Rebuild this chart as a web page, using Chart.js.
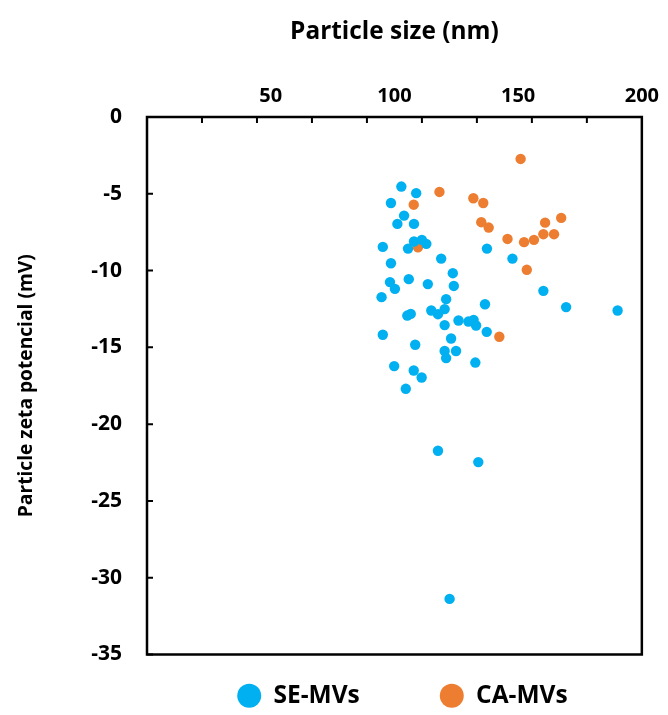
<!DOCTYPE html>
<html>
<head>
<meta charset="utf-8">
<script src="https://cdn.jsdelivr.net/npm/chart.js@4/dist/chart.umd.min.js"></script>
<style>
  html, body { margin: 0; padding: 0; background: #fff; }
  #wrap { width: 668px; height: 715px; }
</style>
</head>
<body>
<div id="wrap"><canvas id="chart"></canvas></div>
<script>
// Values (size in nm, zeta potential in mV)
const seSize = [102.8, 108.8, 98.6, 103.9, 101.2, 107.9, 95.3, 105.5, 107.9, 111.1,
    112.9, 98.6, 118.9, 123.6, 105.8, 98.2, 100.2, 113.5, 124.0, 94.8,
    120.9, 114.9, 117.6, 120.3, 105.2, 106.6, 125.9, 129.9, 132.0, 133.0,
    120.3, 95.3, 108.4, 122.9, 120.3, 124.9, 120.9, 99.9, 107.8, 111.0,
    104.6, 136.6, 137.3, 132.7, 137.4, 147.7, 160.2, 169.4, 190.2, 117.6,
    133.9, 122.3];
const seZeta = [-4.53, -4.96, -5.60, -6.42, -6.96, -6.96, -8.46, -8.57, -8.11, -8.00,
    -8.26, -9.52, -9.22, -10.17, -10.56, -10.75, -11.19, -10.88, -11.00, -11.73,
    -11.86, -12.60, -12.84, -12.51, -12.93, -12.82, -13.25, -13.32, -13.21, -13.58,
    -13.55, -14.18, -14.83, -14.42, -15.24, -15.24, -15.70, -16.22, -16.51, -16.96,
    -17.70, -12.19, -13.99, -15.99, -8.57, -9.22, -11.32, -12.38, -12.60, -21.73,
    -22.47, -31.38];

const caSize = [118.2, 107.8, 109.5, 131.9, 135.9, 135.1, 138.1, 151.0, 145.7, 152.4,
    156.4, 160.2, 160.9, 164.5, 167.4, 153.5, 142.4];
const caZeta = [-4.88, -5.71, -8.48, -5.29, -5.60, -6.85, -7.20, -2.73, -7.94, -8.15,
    -8.00, -7.63, -6.88, -7.63, -6.57, -9.95, -14.31];

const xTickLabels = [50, 100, 150, 200];
const yTicks = [0, -5, -10, -15, -20, -25, -30, -35];

const FONT = '"Open Sans", Lato, sans-serif';

function toPoints(xs, ys) {
    return xs.map((x, i) => ({ x: x, y: ys[i] }));
}

// Box round the plot and short inward tick marks, like the Excel original
const frame = {
    id: 'frame',
    afterLayout(chart) {
        // pull the legend up close under the plot, a bit right of centre
        if (chart.legend) {
            chart.legend.top -= 51;
            chart.legend.bottom -= 51;
            chart.legend.left += 8;
            chart.legend.right += 8;
        }
    },
    afterDraw(chart) {
        const { ctx, chartArea: a, scales } = chart;
        ctx.save();
        ctx.strokeStyle = '#000';
        ctx.lineWidth = 2.5;
        ctx.strokeRect(a.left, a.top, a.right - a.left, a.bottom - a.top);
        ctx.lineWidth = 2;
        ctx.beginPath();
        // x axis has 9 equal tick intervals across the full range
        for (let i = 1; i < 9; i++) {
            const px = a.left + (a.right - a.left) * i / 9;
            ctx.moveTo(px, a.top);
            ctx.lineTo(px, a.top + 6);
        }
        yTicks.forEach(v => {
            const py = scales.y.getPixelForValue(v);
            ctx.moveTo(a.left, py);
            ctx.lineTo(a.left + 6, py);
        });
        ctx.stroke();
        ctx.restore();
    }
};

const ctx = document.getElementById('chart').getContext('2d');
new Chart(ctx, {
    type: 'scatter',
    data: {
        datasets: [{
            label: 'SE-MVs',
            data: toPoints(seSize, seZeta),
            backgroundColor: '#00b0f0',
            borderColor: '#00b0f0',
            borderWidth: 0,
            pointRadius: 5.2
        }, {
            label: 'CA-MVs',
            data: toPoints(caSize, caZeta),
            backgroundColor: '#ed7d31',
            borderColor: '#ed7d31',
            borderWidth: 0,
            pointRadius: 5.2
        }]
    },
    options: {
        responsive: true,
        maintainAspectRatio: false,
        animation: false,
        layout: {
            padding: { left: 0, right: 22, top: 0, bottom: -54 }
        },
        plugins: {
            legend: {
                position: 'bottom',
                fullSize: false,
                labels: {
                    usePointStyle: true,
                    pointStyle: 'circle',
                    boxHeight: 17,
                    pointStyleWidth: 24,
                    padding: 80,
                    color: '#000',
                    font: { family: FONT, size: 24.5, weight: 'bold' }
                }
            },
            tooltip: { enabled: false }
        },
        scales: {
            x: {
                type: 'linear',
                position: 'top',
                min: 0,
                max: 200,
                afterBuildTicks: function(scale) {
                    scale.ticks = xTickLabels.map(v => ({ value: v }));
                },
                afterFit: function(scale) {
                    scale.height = 117;
                },
                grid: { display: false, drawTicks: false },
                border: { display: false },
                ticks: {
                    padding: 9,
                    color: '#000',
                    font: { family: FONT, size: 20, weight: 'bold' }
                },
                title: {
                    display: true,
                    text: 'Particle size (nm)',
                    color: '#000',
                    padding: { top: 17, bottom: 0 },
                    font: { family: FONT, size: 24.4, weight: 'bold' }
                }
            },
            y: {
                type: 'linear',
                min: -35,
                max: 0,
                afterBuildTicks: function(scale) {
                    scale.ticks = yTicks.map(v => ({ value: v }));
                },
                afterFit: function(scale) {
                    scale.width = 147;
                },
                grid: { display: false, drawTicks: false },
                border: { display: false },
                ticks: {
                    padding: 25,
                    color: '#000',
                    font: { family: FONT, size: 21, weight: 'bold' }
                },
                title: {
                    display: true,
                    text: 'Particle zeta potencial (mV)',
                    color: '#000',
                    padding: { top: 15, bottom: 0 },
                    font: { family: FONT, size: 19.2, weight: 'bold' }
                }
            }
        }
    },
    plugins: [frame]
});
</script>
</body>
</html>
